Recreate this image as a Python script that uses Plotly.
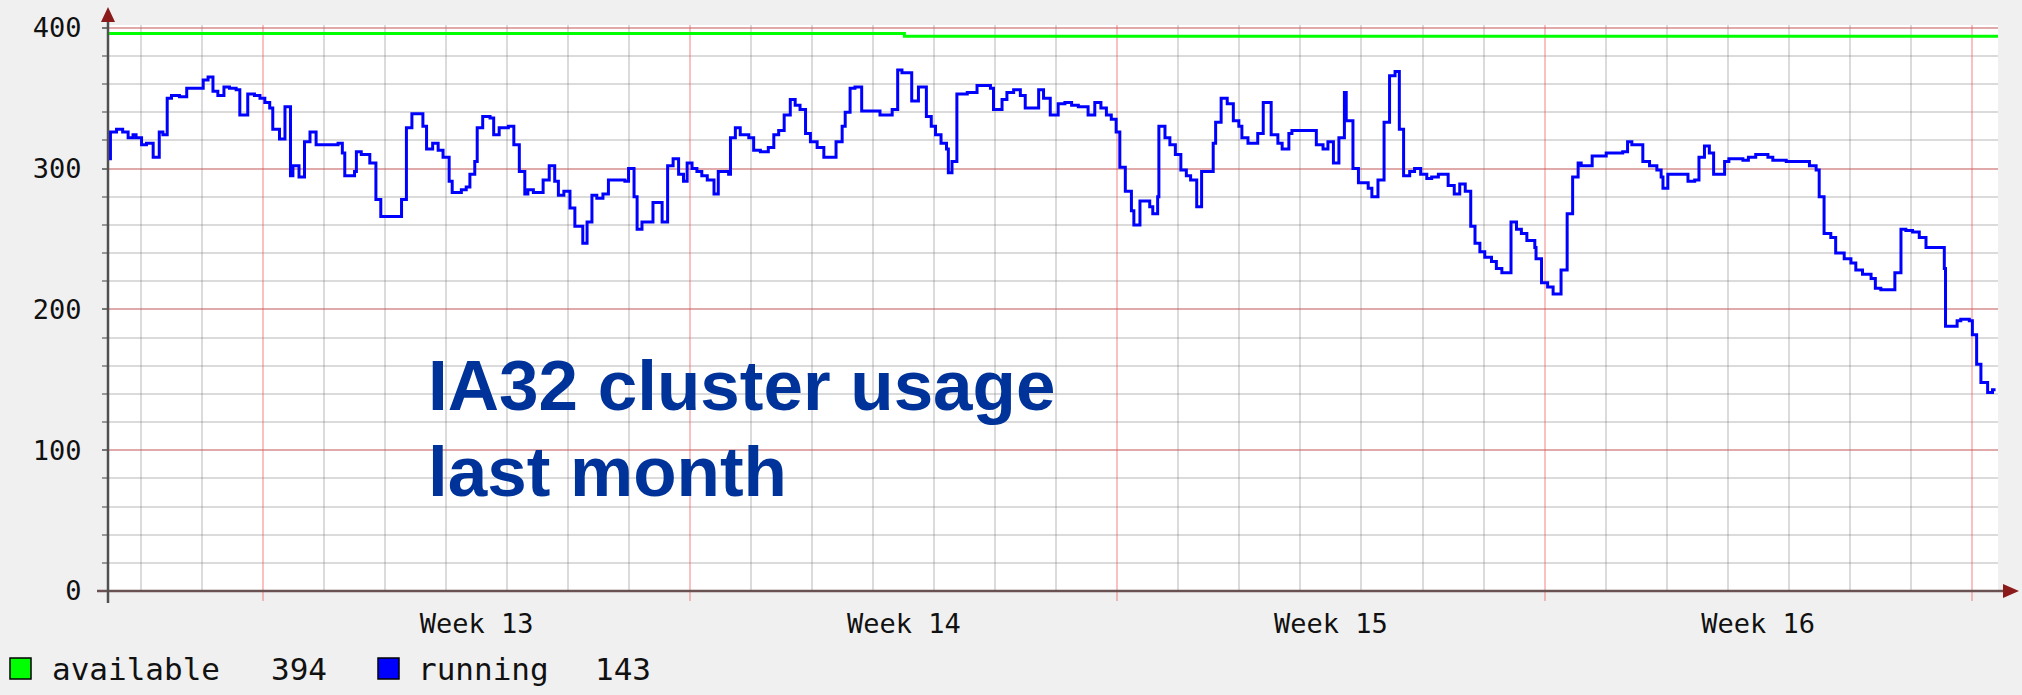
import pandas as pd
import plotly.graph_objects as go

# Time in days counted from Monday of ISO week 13 (2008-03-24)
run_day = [
    -2.54, -2.50, -2.40, -2.30, -2.21, -2.13, -2.08, -1.99, -1.91, -1.80,
    -1.70, -1.64, -1.57, -1.50, -1.37, -1.25, -0.98, -0.90, -0.82, -0.74,
    -0.64, -0.55, -0.44, -0.38, -0.25, -0.14, -0.05, 0.03, 0.11, 0.16,
    0.27, 0.36, 0.45, 0.49, 0.59, 0.68, 0.77, 0.87, 1.23, 1.30,
    1.34, 1.50, 1.53, 1.61, 1.75, 1.85, 1.93, 2.27, 2.35, 2.44,
    2.62, 2.68, 2.78, 2.87, 2.95, 3.05, 3.10, 3.25, 3.33, 3.39,
    3.47, 3.51, 3.60, 3.72, 3.78, 3.87, 4.02, 4.11, 4.20, 4.29,
    4.34, 4.43, 4.59, 4.69, 4.78, 4.84, 4.93, 5.03, 5.11, 5.24,
    5.31, 5.39, 5.47, 5.57, 5.66, 5.93, 5.99, 6.08, 6.13, 6.21,
    6.39, 6.54, 6.63, 6.72, 6.81, 6.89, 6.95, 7.03, 7.11, 7.19,
    7.28, 7.39, 7.46, 7.63, 7.66, 7.74, 7.82, 7.96, 8.04, 8.15,
    8.28, 8.37, 8.45, 8.54, 8.64, 8.72, 8.80, 8.89, 8.97, 9.08,
    9.19, 9.39, 9.49, 9.54, 9.62, 9.70, 9.81, 10.11, 10.31, 10.40,
    10.47, 10.63, 10.74, 10.87, 10.95, 11.02, 11.11, 11.20, 11.23, 11.29,
    11.37, 11.54, 11.70, 11.92, 11.97, 12.11, 12.19, 12.30, 12.41, 12.49,
    12.71, 12.79, 12.90, 13.03, 13.14, 13.25, 13.36, 13.52, 13.63, 13.73,
    13.82, 13.90, 13.98, 14.04, 14.13, 14.23, 14.27, 14.37, 14.53, 14.58,
    14.66, 14.68, 14.78, 14.86, 14.95, 15.04, 15.13, 15.20, 15.30, 15.38,
    15.57, 15.61, 15.70, 15.80, 15.90, 15.99, 16.04, 16.14, 16.30, 16.39,
    16.52, 16.63, 16.70, 16.81, 16.86, 17.26, 17.37, 17.45, 17.54, 17.63,
    17.72, 17.75, 17.86, 17.95, 18.11, 18.17, 18.27, 18.37, 18.46, 18.55,
    18.62, 18.69, 18.79, 18.87, 18.97, 19.07, 19.15, 19.26, 19.42, 19.52,
    19.61, 19.70, 19.79, 19.86, 19.94, 20.02, 20.13, 20.21, 20.30, 20.45,
    20.54, 20.62, 20.71, 20.84, 20.86, 20.95, 21.05, 21.14, 21.27, 21.37,
    21.46, 21.55, 21.60, 21.78, 22.01, 22.28, 22.36, 22.43, 22.61, 22.72,
    22.84, 22.91, 22.94, 23.02, 23.35, 23.46, 23.53, 23.62, 23.70, 23.77,
    23.95, 24.02, 24.25, 24.34, 24.46, 24.66, 24.74, 24.96, 25.06, 25.34,
    25.45, 25.50, 25.58, 25.69, 25.77, 25.91, 26.02, 26.10, 26.21, 26.35,
    26.42, 26.51, 26.74, 26.84, 26.92, 27.03, 27.14, 27.25, 27.55, 27.57,
    27.76, 27.82, 27.96, 28.01, 28.08, 28.15, 28.26, 28.34, 28.39,
]
run_val = [
    307, 326, 328, 326, 322, 324, 322, 317, 318, 308,
    326, 324, 350, 352, 351, 357, 363, 365, 355, 352,
    358, 357, 356, 338, 353, 352, 350, 347, 343, 328,
    321, 344, 295, 302, 294, 319, 326, 317, 318, 311,
    295, 298, 312, 310, 304, 278, 266, 278, 329, 339,
    330, 314, 318, 313, 308, 291, 283, 285, 287, 296,
    305, 329, 337, 336, 324, 329, 330, 317, 298, 282,
    285, 283, 292, 302, 291, 281, 284, 272, 259, 247,
    262, 281, 279, 282, 292, 291, 300, 280, 257, 262,
    276, 262, 302, 307, 296, 291, 304, 300, 298, 295,
    292, 282, 298, 296, 322, 329, 324, 322, 313, 312,
    315, 324, 327, 338, 349, 345, 342, 325, 319, 315,
    308, 319, 330, 340, 357, 358, 341, 338, 342, 370,
    368, 348, 358, 337, 330, 324, 318, 314, 297, 305,
    353, 354, 359, 357, 342, 349, 354, 356, 352, 343,
    356, 350, 338, 346, 347, 345, 344, 338, 347, 343,
    338, 335, 326, 301, 284, 270, 260, 277, 273, 268,
    280, 330, 322, 317, 310, 299, 295, 292, 273, 298,
    318, 333, 350, 346, 334, 330, 322, 318, 325, 347,
    324, 318, 314, 325, 327, 317, 314, 319, 304, 322,
    354, 334, 300, 290, 286, 280, 292, 333, 366, 369,
    328, 295, 298, 300, 296, 293, 294, 296, 288, 282,
    289, 284, 259, 247, 241, 237, 234, 229, 226, 262,
    257, 254, 249, 244, 236, 219, 216, 211, 228, 268,
    294, 304, 302, 309, 311, 312, 319, 317, 305, 302,
    299, 294, 286, 296, 291, 292, 308, 316, 311, 296,
    305, 307, 306, 308, 310, 308, 306, 305, 305, 302,
    299, 280, 254, 251, 240, 236, 233, 228, 225, 222,
    215, 214, 226, 257, 256, 255, 251, 244, 229, 188,
    192, 193, 192, 182, 161, 148, 141, 143, 143,
]
avail_day = [-2.54, 10.51, 28.43]
avail_val = [396, 394, 394]

week_mid = [3.5, 10.5, 17.5, 24.5]
week_labels = ['Week 13', 'Week 14', 'Week 15', 'Week 16']
y_ticks = [0, 100, 200, 300, 400]

week13 = pd.Timestamp('2008-03-24')


def to_time(days):
    return week13 + pd.to_timedelta(days, unit='D')


# plot area in pixels (used only for decorations: arrows, legend)
L, R, T, B = 108, 1998, 25, 591


def px_x(px):
    return (px - L) / (R - L)


def px_y(py):
    return (B - py) / (B - T)


DAY = 86400000
MONO = 'DejaVu Sans Mono'
x_range = [to_time(-2.54), to_time(28.43)]

fig = go.Figure()

fig.add_trace(go.Scatter(
    x=to_time(run_day), y=run_val, mode='lines', name='running',
    line=dict(color='#0000FF', width=3, shape='hv'), showlegend=False,
    xaxis='x', yaxis='y'
))
fig.add_trace(go.Scatter(
    x=to_time(avail_day), y=avail_val, mode='lines', name='available',
    line=dict(color='#00FF00', width=3, shape='hv'), showlegend=False,
    xaxis='x2', yaxis='y'
))

# axis lines + arrows
shapes = [
    dict(type='line', xref='paper', yref='paper', x0=px_x(97), x1=px_x(2005),
         y0=0, y1=0, line=dict(color='#6b5252', width=2.5), layer='above'),
    dict(type='line', xref='paper', yref='paper', x0=0, x1=0,
         y0=px_y(603), y1=px_y(20), line=dict(color='#505050', width=2.5), layer='above'),
    dict(type='path', xref='paper', yref='paper', layer='above',
         path=f'M{px_x(101)},{px_y(22)} L{px_x(115)},{px_y(22)} L{px_x(108)},{px_y(7)} Z',
         fillcolor='#8B1A1A', line=dict(width=0)),
    dict(type='path', xref='paper', yref='paper', layer='above',
         path=f'M{px_x(2003)},{px_y(584)} L{px_x(2003)},{px_y(598)} L{px_x(2019)},{px_y(591)} Z',
         fillcolor='#8B1A1A', line=dict(width=0)),
]

# legend boxes
legend_items = [('available', avail_val[-1], '#00FF00', 10, 50, 269),
                ('running', run_val[-1], '#0000FF', 378, 416, 593)]
annotations = []
for name, last, col, bx, tx, vx in legend_items:
    shapes.append(dict(type='rect', xref='paper', yref='paper',
                       x0=px_x(bx), x1=px_x(bx + 21), y0=px_y(679), y1=px_y(658),
                       fillcolor=col, line=dict(color='#000000', width=1.5)))
    annotations.append(dict(text=name, xref='paper', yref='paper', x=px_x(tx), y=px_y(669),
                            xanchor='left', yanchor='middle', showarrow=False,
                            font=dict(family=MONO, size=31, color='#111111')))
    annotations.append(dict(text=f'{last:.0f}', xref='paper', yref='paper', x=px_x(vx), y=px_y(669),
                            xanchor='left', yanchor='middle', showarrow=False,
                            font=dict(family=MONO, size=31, color='#111111')))

# overlay caption
for txt, yc in [('IA32 cluster usage', 385), ('last month', 471)]:
    annotations.append(dict(text=txt, xref='paper', yref='paper', x=px_x(426), y=px_y(yc),
                            xanchor='left', yanchor='middle', showarrow=False,
                            font=dict(family='Liberation Sans, Arial', size=71,
                                      color='#003399', weight='bold')))

fig.update_layout(
    width=2022, height=695,
    paper_bgcolor='#F0F0F0', plot_bgcolor='#FFFFFF',
    margin=dict(l=L, r=2022 - R, t=T, b=695 - B),
    showlegend=False,
    xaxis=dict(type='date', range=x_range, tick0=week13, dtick=7 * DAY,
               showgrid=True, gridcolor='rgba(235,80,80,0.35)', gridwidth=2,
               showticklabels=False, ticks='outside', ticklen=9, tickwidth=2,
               tickcolor='rgba(235,80,80,0.35)', zeroline=False, showline=False,
               minor=dict(tick0=week13, dtick=DAY, showgrid=True,
                          gridcolor='rgba(110,110,110,0.25)', gridwidth=2)),
    xaxis2=dict(type='date', range=x_range, overlaying='x', anchor='y', side='bottom',
                tickmode='array', tickvals=to_time(week_mid), ticktext=week_labels,
                showgrid=False, ticks='', zeroline=False, showline=False,
                ticklabelstandoff=14,
                tickfont=dict(family=MONO, size=27, color='#111111')),
    yaxis=dict(range=[0, 402], tickmode='array', tickvals=y_ticks,
               showgrid=True, gridcolor='rgba(235,80,80,0.35)', gridwidth=2,
               ticks='outside', ticklen=5, tickwidth=2, tickcolor='#777777',
               ticklabelstandoff=15, zeroline=False, showline=False,
               tickfont=dict(family=MONO, size=27, color='#111111'),
               minor=dict(dtick=20, showgrid=True, gridcolor='rgba(110,110,110,0.25)',
                          gridwidth=2, ticks='outside', ticklen=5, tickcolor='#999999')),
    shapes=shapes,
    annotations=annotations,
)

# the page body has a default 8px margin; drop it so the figure fills the window
fig.write_html('out.html', config={'displayModeBar': False},
               post_script="document.body.style.margin='0';")
